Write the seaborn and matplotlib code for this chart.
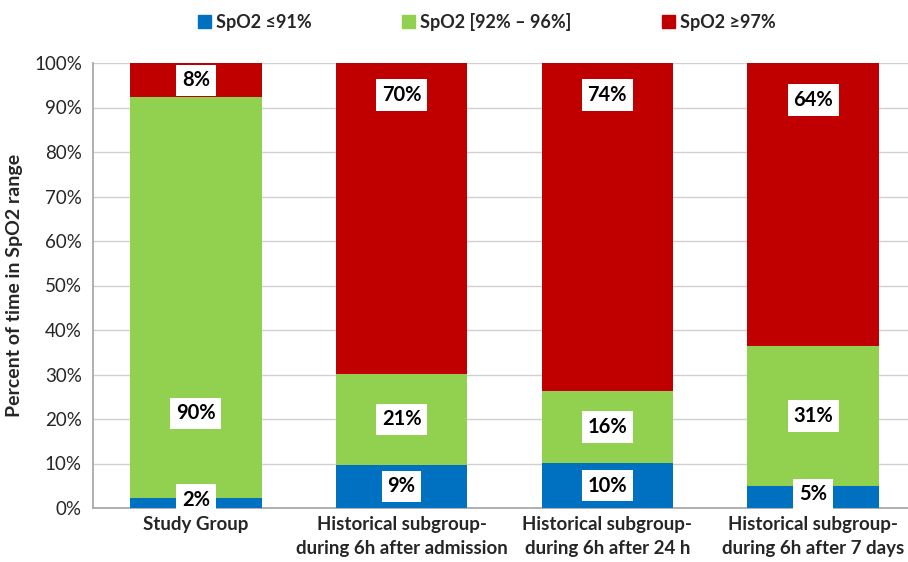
import matplotlib
matplotlib.use("Agg")
import matplotlib.pyplot as plt
import seaborn as sns
import numpy as np
from matplotlib.patches import Patch

categories = ["Study Group",
              "Historical subgroup-\nduring 6h after admission",
              "Historical subgroup-\nduring 6h after 24 h",
              "Historical subgroup-\nduring 6h after 7 days"]
series_names = ["SpO2 \u226491%", "SpO2 [92% \u2013 96%]", "SpO2 \u226597%"]
low = [2.2, 9.7, 10.1, 4.9]
mid = [90.2, 20.4, 16.2, 31.5]
high = [7.6, 69.9, 73.7, 63.6]
low_lbl = ["2%", "9%", "10%", "5%"]
mid_lbl = ["90%", "21%", "16%", "31%"]
high_lbl = ["8%", "70%", "74%", "64%"]
yticks = [0, 10, 20, 30, 40, 50, 60, 70, 80, 90, 100]
colors = ["#0070C0", "#92D050", "#C00000"]

sns.set_theme(style="white")
plt.rcParams['font.family'] = ['Lato', 'DejaVu Sans']

fig = plt.figure(figsize=(9.08, 5.62), dpi=100)
ax = fig.add_axes([93/908, 54/562, (916-93)/908, 445/562])

low_a = np.array(low); mid_a = np.array(mid); high_a = np.array(high)
bottoms = [np.zeros(4), low_a, low_a + mid_a]
for vals, bot, col in zip([low_a, mid_a, high_a], bottoms, colors):
    sns.barplot(x=categories, y=vals, bottom=bot, color=col, width=0.64,
                saturation=1, linewidth=0, ax=ax, zorder=3)

ax.set_ylim(0, 100)
ax.set_xlim(-0.5, 3.5)
ax.set_yticks(yticks)
ax.set_yticklabels([f"{t}%" for t in yticks], fontsize=13.5)
ax.yaxis.grid(True, color="#d0d0d0", lw=1, zorder=0)
ax.set_axisbelow(True)
for s in ["top", "right"]:
    ax.spines[s].set_visible(False)
for s in ["left", "bottom"]:
    ax.spines[s].set_color("#a6a6a6")
ax.tick_params(axis='y', length=0, pad=8)
ax.tick_params(axis='x', length=0, pad=6)
for lab in ax.get_xticklabels():
    lab.set_fontweight("bold")
    lab.set_fontsize(13.5)
    lab.set_linespacing(1.5)
ax.set_ylabel("Percent of time in SpO2 range", fontsize=14, fontweight="bold", labelpad=8)

# label positions
low_y = [1.8, low_a[1]/2, low_a[2]/2, 3.1]
mid_y = [21.3] + list((low_a + mid_a/2)[1:])
high_y = [96.1, 92.8, 92.8, 91.7]
box = dict(boxstyle="square,pad=0.28", fc="white", ec="none")
for ys, lbls in zip([low_y, mid_y, high_y], [low_lbl, mid_lbl, high_lbl]):
    for i, (y, t) in enumerate(zip(ys, lbls)):
        ax.text(i, y, t, ha="center", va="center", fontsize=14.5,
                fontweight="bold", color="black", bbox=box, zorder=5)

handles = [Patch(color=c, label=n) for c, n in zip(colors, series_names)]
fig.legend(handles=handles, loc="center", bbox_to_anchor=(487/908, 1-22/562),
           ncol=3, frameon=False, handlelength=0.7, handleheight=0.7,
           handletextpad=0.3, columnspacing=5.0,
           prop=dict(weight="bold", size=13))

fig.savefig("out.png", dpi=100)
